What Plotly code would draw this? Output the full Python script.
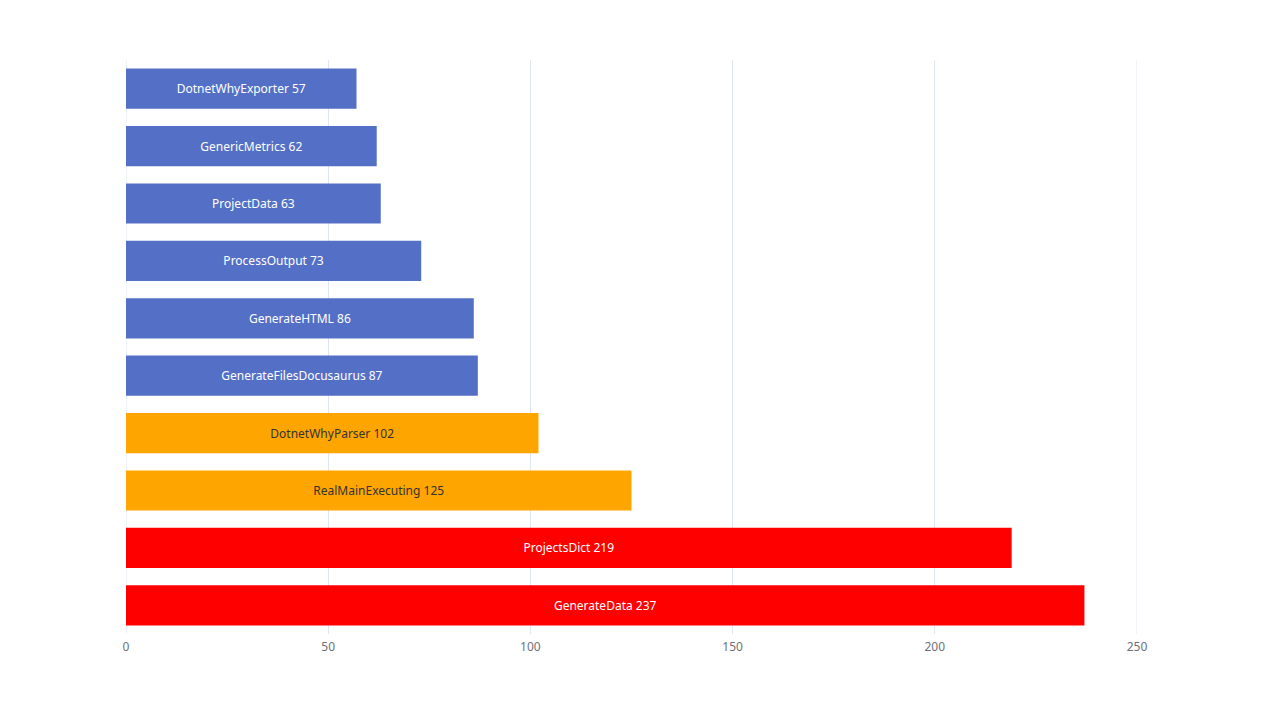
import plotly.graph_objects as go

# top to bottom as shown
names = [
    "DotnetWhyExporter", "GenericMetrics", "ProjectData", "ProcessOutput",
    "GenerateHTML", "GenerateFilesDocusaurus", "DotnetWhyParser",
    "RealMainExecuting", "ProjectsDict", "GenerateData",
]
counts = [57, 62, 63, 73, 86, 87, 102, 125, 219, 237]
x_ticks = [0, 50, 100, 150, 200, 250]


def bar_color(v):
    if v > 200:
        return "#FF0000"
    if v > 100:
        return "#FFA500"
    return "#5470C6"


def label_color(v):
    return "#333333" if 100 < v <= 200 else "#FFFFFF"


colors = [bar_color(v) for v in counts]
text_colors = [label_color(v) for v in counts]
labels = [f"{n} {v}" for n, v in zip(names, counts)]

fig = go.Figure()
fig.add_trace(go.Bar(
    x=counts,
    y=names,
    orientation="h",
    marker=dict(color=colors, line=dict(width=0)),
    text=labels,
    textposition="inside",
    insidetextanchor="middle",
    textangle=0,
    textfont=dict(color=text_colors, size=12),
    constraintext="none",
    width=0.7,
    hoverinfo="x+y",
))

# edge gridlines (plotly drops them at the range limits)
for xv in (x_ticks[0], x_ticks[-1]):
    fig.add_shape(type="line", xref="x", yref="paper", x0=xv, x1=xv, y0=0, y1=1,
                  line=dict(color="#E0E6F1", width=1), layer="below")

# page body has an 8px margin, so pull the plot area back by that much
fig.update_layout(
    width=1264,
    height=705,
    margin=dict(l=118, r=135, t=52, b=79),
    paper_bgcolor="white",
    plot_bgcolor="white",
    showlegend=False,
    font=dict(family="Noto Sans, Open Sans, sans-serif", size=12, color="#6E7079"),
    xaxis=dict(
        range=[x_ticks[0], x_ticks[-1]],
        tickvals=x_ticks,
        showgrid=True,
        gridcolor="#E0E6F1",
        gridwidth=1,
        zeroline=False,
        showline=False,
        ticks="",
        ticklabelstandoff=4,
        tickfont=dict(size=12, color="#6E7079"),
        fixedrange=True,
    ),
    yaxis=dict(
        autorange="reversed",
        showticklabels=False,
        showgrid=False,
        zeroline=False,
        showline=False,
        ticks="",
        fixedrange=True,
    ),
)

fig.write_html("out.html")
